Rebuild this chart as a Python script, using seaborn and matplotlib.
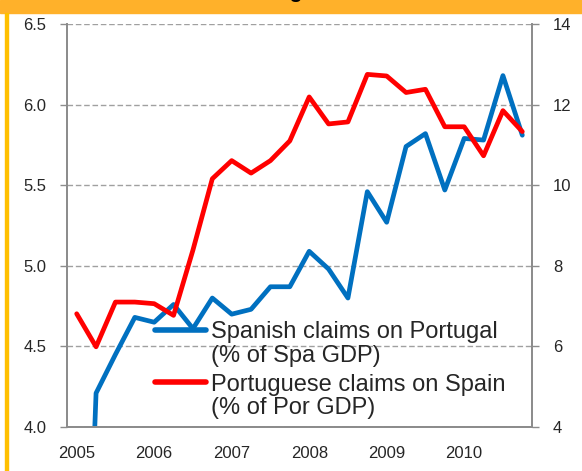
import numpy as np
import pandas as pd
import matplotlib
matplotlib.use("Agg")
import matplotlib.pyplot as plt
import seaborn as sns
from matplotlib.patches import Rectangle

## Quarterly data 2005Q1 - 2010Q4
quarters = [f"{y}Q{q}" for y in range(2005, 2011) for q in range(1, 5)]
year_labels = ["2005", "2006", "2007", "2008", "2009", "2010"]

# Spanish claims on Portugal (% of Spa GDP) - left axis
spa_on_por = [1.0, 4.21, 4.45, 4.68, 4.65, 4.76, 4.61, 4.80,
              4.70, 4.73, 4.87, 4.87, 5.09, 4.98, 4.80, 5.46,
              5.27, 5.74, 5.82, 5.47, 5.79, 5.78, 6.18, 5.81]
# Portuguese claims on Spain (% of Por GDP) - right axis
por_on_spa = [6.81, 5.99, 7.10, 7.10, 7.06, 6.77, 8.39, 10.16,
              10.61, 10.30, 10.61, 11.10, 12.19, 11.52, 11.57, 12.75,
              12.71, 12.30, 12.38, 11.45, 11.45, 10.73, 11.85, 11.33]

df = pd.DataFrame({"quarter": quarters,
                   "idx": np.arange(len(quarters)),
                   "spa": spa_on_por,
                   "por": por_on_spa})

sns.set_style("white")
plt.rcParams['font.family'] = ['Liberation Sans', 'DejaVu Sans']

fig = plt.figure(figsize=(5.82, 4.71), dpi=100)
ax = fig.add_axes([67/582, 1 - 427/471, 465/582, 403/471])
ax2 = ax.twinx()

# frame decorations
fig.patches.append(Rectangle((0, 1 - 12.5/471), 1, 12.5/471, transform=fig.transFigure,
                             color="#FFB12A", zorder=0))
fig.patches.append(Rectangle((5/582, 0), 3/582, 1 - 12.5/471, transform=fig.transFigure,
                             color="#FFC000", zorder=0))
fig.text(278/582, 1 + 1.5/471, "Portugal", ha="center", va="baseline",
         fontsize=15, fontweight="bold", color="black")

sns.lineplot(data=df, x="idx", y="spa", ax=ax, color="#0070C0", linewidth=3.4,
             label="Spanish claims on Portugal\n(% of Spa GDP)", legend=False)
sns.lineplot(data=df, x="idx", y="por", ax=ax2, color="#FF0000", linewidth=3.4,
             label="Portuguese claims on Spain\n(% of Por GDP)", legend=False)

grey = "#8C8C8C"
ax.set_ylim(4.0, 6.5)
ax.set_yticks(np.arange(4.0, 6.51, 0.5))
ax.set_yticklabels([f"{v:.1f}" for v in np.arange(4.0, 6.51, 0.5)])
ax2.set_ylim(4, 14)
ax2.set_yticks(range(4, 15, 2))

ax.set_xlim(-0.5, len(quarters) - 0.5)
ax.set_xticks(np.arange(-0.5, len(quarters), 1.0))
ax.set_xticklabels([])
ax.set_xticks(np.arange(0, len(quarters), 4), minor=True)
ax.set_xticklabels(year_labels, minor=True)
ax.tick_params(axis="x", which="minor", length=0, pad=14, labelsize=12)
ax.tick_params(axis="x", which="major", length=5, color=grey, width=1)
ax.tick_params(axis="y", length=5, color=grey, width=1, labelsize=12, pad=10)
ax2.tick_params(axis="y", length=5, color=grey, width=1, labelsize=12, pad=10)

ax.set_xlabel("")
ax.set_ylabel("")
ax2.set_ylabel("")

ax.yaxis.grid(True, linestyle=(0, (4, 2)), color="#A0A0A0", linewidth=1)
ax.set_axisbelow(True)

for a in (ax, ax2):
    a.spines["top"].set_visible(False)
    for s in ("left", "right", "bottom"):
        a.spines[s].set_color(grey)
        a.spines[s].set_linewidth(1.3)

h1, l1 = ax.get_legend_handles_labels()
h2, l2 = ax2.get_legend_handles_labels()
leg = ax2.legend(h1 + h2, l1 + l2, loc="upper left",
                 bbox_to_anchor=(0.19, 0.262), frameon=False, fontsize=17,
                 handlelength=2.15, handletextpad=0.2, labelspacing=0.3,
                 borderpad=0, borderaxespad=0)
for t in leg.get_texts():
    t.set_linespacing(1.08)
for line in leg.get_lines():
    line.set_linewidth(4)
    line.set_ydata(np.asarray(line.get_ydata()) + 10.5)

fig.savefig("out.png", dpi=100)
